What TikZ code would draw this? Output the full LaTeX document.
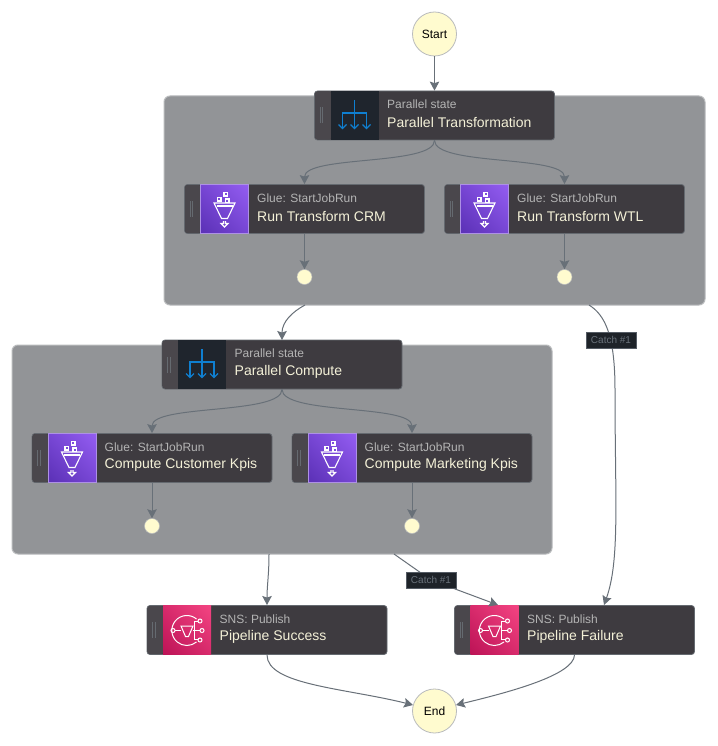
\documentclass[tikz,border=0pt]{standalone}
\usepackage{fontspec}
\setmainfont{Liberation Sans}
\usetikzlibrary{arrows.meta, positioning, shadings}

\definecolor{boxfill}{HTML}{3E3B40}
\definecolor{handlefill}{HTML}{4A474C}
\definecolor{boxline}{HTML}{656A70}
\definecolor{groupfill}{HTML}{929497}
\definecolor{groupline}{HTML}{B9BBBD}
\definecolor{edgecolor}{HTML}{687078}
\definecolor{cream}{HTML}{FFFBCF}
\definecolor{titletext}{HTML}{F4F1D8}
\definecolor{subtext}{HTML}{B4B4B4}
\definecolor{darkicon}{HTML}{1F252D}
\definecolor{splitblue}{HTML}{0F7FD0}
\definecolor{catchfill}{HTML}{1E2329}
\definecolor{catchline}{HTML}{555C65}
\definecolor{catchtext}{HTML}{6A727B}
\definecolor{glueHigh}{HTML}{945DF2}
\definecolor{glueMid}{HTML}{7746D4}
\definecolor{glueLow}{HTML}{5A30B5}
\definecolor{snsHigh}{HTML}{F34482}
\definecolor{snsMid}{HTML}{D82B6C}
\definecolor{snsLow}{HTML}{BC1356}

% icons, drawn round the centre of their square
\newcommand{\parallelicon}{
    \fill[darkicon] (0,0) rectangle (48,49);
    \begin{scope}[shift={(24,25)}, splitblue, line width=1.2pt]
        \draw (0,-16) -- (0,12);
        \draw (-12,12) -- (-12,-3) -- (12,-3) -- (12,12);
        \foreach \xa in {-12,0,12}
            \draw (\xa-4,8.5) -- (\xa,12.5) -- (\xa+4,8.5);
    \end{scope}
}
\newcommand{\glueicon}{
    \shade[lower left=glueLow, upper right=glueHigh, upper left=glueMid, lower right=glueMid] (0,0) rectangle (48,49);
    \draw[glueMid!60!white, line width=.5pt] (0,0) rectangle (48,49);
    \begin{scope}[shift={(24,25)}, white, line width=1.1pt]
        \draw (-10.5,-6.5) -- (10.5,-6.5) -- (3,9) -- (-3,9) -- cycle;
        \draw (-8,-3.5) -- (8,-3.5);
        \draw (-1,11.5) -- (-1,14) -- (-3.5,14) -- (0,17.5) -- (3.5,14) -- (1,14) -- (1,11.5);
        \draw (-.5,-17) rectangle (3,-13.5);
        \draw (-7,-12) rectangle (-3.5,-8.5);
        \draw (1,-10.5) rectangle (4.5,-7);
    \end{scope}
}
\newcommand{\snsicon}{
    \shade[lower left=snsLow, upper right=snsHigh, upper left=snsMid, lower right=snsMid] (0,0) rectangle (48,49);
    \begin{scope}[shift={(24,25)}, white, line width=1pt]
        \draw (9.5,-11.5) arc[start angle=-50, end angle=-310, radius=15];
        \draw (-14,0) circle[radius=2];
        \draw (-12,0) -- (-6,0) (6,0) -- (13,0);
        \draw (-6,-4.5) -- (6,-4.5) -- (1.5,6) -- (-1.5,6) -- cycle;
        \draw (7,0) -- (7,-9) -- (11,-9);
        \draw (7,0) -- (7,9) -- (11,9);
        \draw (13,-9.5) circle[radius=2];
        \draw (15,0) circle[radius=2];
        \draw (13,9.5) circle[radius=2];
    \end{scope}
}
% name, left, top, icon, kind, title
\newcommand{\statebox}[6]{
    \begin{scope}[shift={(#2,#3)}]
        \node[statenode] (#1) at (120,24.5) {};
        \fill[handlefill, rounded corners=3pt] (.5,.5) rectangle (17,48.5);
        \begin{scope}[shift={(16,0)}] #4 \end{scope}
        \draw[boxline, line width=.5pt] (5.5,16.5) -- (5.5,32.5) (8,16.5) -- (8,32.5);
        \node[subtitle] (#1 kind) at (72.5,13.5) {#5};
        \node[title] (#1 title) at (72.5,31.8) {#6};
    \end{scope}
}

\begin{document}
\begin{tikzpicture}[
            x=1pt, y=-1pt,
            group/.style={draw=groupline, fill=groupfill, line width=1pt, rounded corners=6pt, inner sep=0pt},
            statenode/.style={draw=boxline, fill=boxfill, line width=.8pt, rounded corners=3pt,
                minimum width=240pt, minimum height=49pt, inner sep=0pt},
            subtitle/.style={anchor=west, inner sep=0pt, text=subtext, font=\fontsize{12}{12}\selectfont},
            title/.style={anchor=west, inner sep=0pt, text=titletext, font=\fontsize{14}{14}\selectfont},
            terminal/.style={circle, draw=groupline, fill=cream, line width=.8pt, minimum size=44pt, inner sep=0pt,
                font=\fontsize{12}{12}\selectfont},
            joint/.style={circle, draw=groupline, fill=cream, line width=.5pt, minimum size=15pt, inner sep=0pt},
            catch/.style={draw=catchline, fill=catchfill, line width=.8pt, minimum width=50pt, minimum height=16pt,
                inner sep=0pt, text=catchtext, font=\fontsize{10}{10}\selectfont},
            edge/.style={draw=edgecolor, line width=1pt, -{Stealth[length=9pt, width=9.5pt, inset=1.5pt]}},
            plain edge/.style={draw=edgecolor, line width=1pt}
        ]
        \useasboundingbox (0,0) rectangle (717,746);
        \fill[white] (0,0) rectangle (717,746);

        \node[group, minimum width=541pt, minimum height=209pt] (transformGroup) at (434.5,200.5) {};
        \node[group, minimum width=540pt, minimum height=209pt] (computeGroup) at (282,449.5) {};

        \node[terminal] (start) at (434.5,34) {Start};
        \node[terminal] (end) at (434.5,711) {End};

        \statebox{parallelT}{314.5}{91}{\parallelicon}{Parallel state}{Parallel Transformation}
        \statebox{crm}{184.5}{184.5}{\glueicon}{Glue: StartJobRun}{Run Transform CRM}
        \statebox{wtl}{444.5}{184.5}{\glueicon}{Glue: StartJobRun}{Run Transform WTL}
        \statebox{parallelC}{162}{340}{\parallelicon}{Parallel state}{Parallel Compute}
        \statebox{customer}{32}{433.5}{\glueicon}{Glue: StartJobRun}{Compute Customer Kpis}
        \statebox{marketing}{292}{433.5}{\glueicon}{Glue: StartJobRun}{Compute Marketing Kpis}
        \statebox{success}{147}{605.5}{\snsicon}{SNS: Publish}{Pipeline Success}
        \statebox{failure}{454.5}{605.5}{\snsicon}{SNS: Publish}{Pipeline Failure}

        \node[joint] (crmEnd) at (304.5,277) {};
        \node[joint] (wtlEnd) at (564.5,277) {};
        \node[joint] (customerEnd) at (152,526) {};
        \node[joint] (marketingEnd) at (412,526) {};

        % where edges leave the groups
        \coordinate (transformOut) at (305,305);
        \coordinate (transformCatch) at (589,305);
        \coordinate (computeOut) at (269,554);
        \coordinate (computeCatch) at (394,554);
        \coordinate (computeLabelIn) at (431,580);
        \coordinate (failureIn) at (498,605);
        \coordinate (failureCatchIn) at (604,605);
        \coordinate (successIn) at (267,605);
        \coordinate (computeIn) at (282,340);
        \coordinate (endLeft) at (413,705);
        \coordinate (endRight) at (456,705);

        \draw[edge] (start) -- (parallelT);
        \draw[edge] (parallelT.south) .. controls (434.5,166) and (304.5,155) .. (crm.north);
        \draw[edge] (parallelT.south) .. controls (434.5,166) and (564.5,155) .. (wtl.north);
        \draw[edge] (crm) -- (crmEnd);
        \draw[edge] (wtl) -- (wtlEnd);
        \draw[edge] (parallelC.south) .. controls (282,415) and (152,404) .. (customer.north);
        \draw[edge] (parallelC.south) .. controls (282,415) and (412,404) .. (marketing.north);
        \draw[edge] (customer) -- (customerEnd);
        \draw[edge] (marketing) -- (marketingEnd);
        \draw[edge] (transformOut) .. controls (292,312) and (282,322) .. (computeIn);
        \draw[edge] (computeOut) .. controls (269,575) and (267,585) .. (successIn);
        \draw[edge] (transformCatch) .. controls (605,315) and (615,335) .. (615,390)
            .. controls (615,500) and (620,560) .. (failureCatchIn);
        \draw[plain edge] (computeCatch) -- (computeLabelIn);
        \draw[edge] (computeLabelIn) -- (failureIn);
        \draw[edge] (success.south) .. controls (267,685) and (345,688) .. (endLeft);
        \draw[edge] (failure.south) .. controls (574,675) and (510,692) .. (endRight);

        \node[catch] (transformLabel) at (611,340) {Catch \#1};
        \node[catch] (computeLabel) at (431,580) {Catch \#1};
    \end{tikzpicture}
\end{document}
